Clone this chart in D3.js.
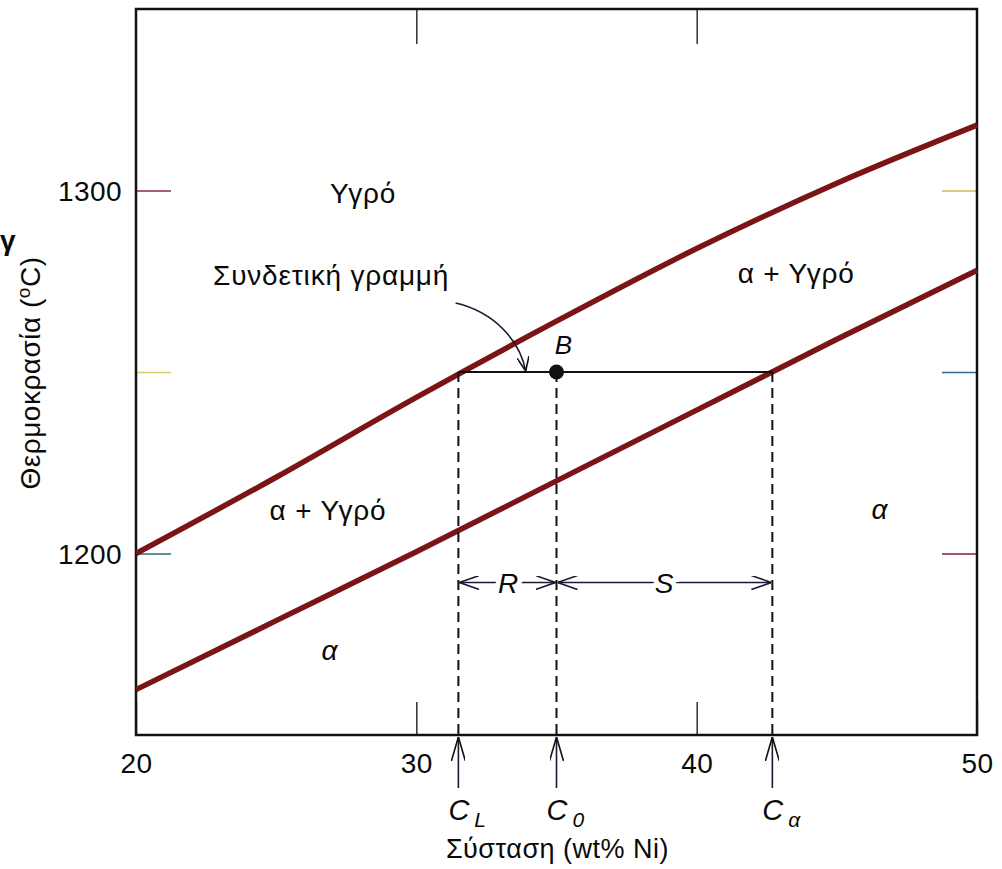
<!DOCTYPE html>
<head>
  <meta charset="utf-8">
  <script src="https://d3js.org/d3.v7.min.js"></script>
  <style>
body { margin:0; background:#fff; }
text {
	font-family: "Liberation Sans", Arial, Helvetica, sans-serif;
	fill: #0a0a0a;
}
.label { font-size: 28px; letter-spacing: 0.8px; }
.ital { font-style: italic; }
.frame { fill: none; stroke: #111; stroke-width: 2.5; }
.curve { fill: none; stroke: #7b1416; stroke-width: 5.5; }
.tie { stroke: #111; stroke-width: 2; }
.dash { stroke: #111; stroke-width: 2; stroke-dasharray: 10,6; }
.thin { stroke: #1a1a33; stroke-width: 1.6; fill: none; }
.axis text { font-size: 28px; letter-spacing: 0.4px; fill: #0a0a0a; }
.axis .domain { display: none; }
  </style>
</head>

<body>
  <script>
// composition (wt% Ni) and phase boundaries (°C)
const compNi = [20, 25, 30, 35, 40, 45, 50]
const liquidusT = [1200, 1221, 1243, 1264, 1284, 1302, 1318]
const solidusT = [1162.5, 1181.5, 1200.5, 1220, 1239.5, 1259, 1278]

const xTicks = [20, 30, 40, 50]
const yTicks = [1200, 1250, 1300]
const yTickLabels = ['1200', '', '1300']

// tie line at point B
const tieT = 1250
const cL = 31.5
const c0 = 35
const cAlpha = 42.7

const regionNames = ['Υγρό', 'α + Υγρό', 'α + Υγρό', 'α', 'α']
const regionX = [28.1, 43.55, 26.85, 46.54, 26.92]
const regionT = [1296.5, 1274.5, 1209.2, 1209.5, 1170.7]

const width = 1002
const height = 869

const x = d3.scaleLinear().domain([20, 50]).range([136, 977])
const y = d3.scaleLinear().domain([1150, 1350]).range([735, 9])

const svg = d3.select('body')
	.append('svg')
	.attr('width', width)
	.attr('height', height)

const defs = svg.append('defs')
const marker = (id, len, half, col) => {
	defs.append('marker')
		.attr('id', id)
		.attr('markerUnits', 'userSpaceOnUse')
		.attr('viewBox', `0 0 ${len} ${half * 2}`)
		.attr('refX', len).attr('refY', half)
		.attr('markerWidth', len).attr('markerHeight', half * 2)
		.attr('orient', 'auto-start-reverse')
		.append('path')
		.attr('d', `M0,0L${len},${half}L0,${half * 2}`)
		.attr('fill', 'none')
		.attr('stroke', col)
		.attr('stroke-width', 1.6)
}
marker('up', 24, 7, '#111')
marker('dim', 20, 7, '#1a1a33')
marker('note', 14, 6, '#111')

// axes: ticks point inwards
const tickCol = {
	left: { 1300: '#8a2850', 1250: '#d6cc6a', 1200: '#2c6e78' },
	right: { 1300: '#c9b850', 1250: '#2b6c9a', 1200: '#8a1c30' }
}

const gl = svg.append('g').attr('class', 'axis')
	.attr('transform', `translate(${x(20)},0)`)
	.call(d3.axisLeft(y).tickValues(yTicks).tickSizeInner(-35).tickSizeOuter(0)
		.tickPadding(14).tickFormat((d, i) => yTickLabels[i]))
gl.selectAll('.tick line').attr('stroke', d => tickCol.left[d]).attr('stroke-width', 1.6)
gl.selectAll('.tick text').attr('dy', '0.36em')

const gr = svg.append('g').attr('class', 'axis')
	.attr('transform', `translate(${x(50)},0)`)
	.call(d3.axisRight(y).tickValues(yTicks).tickSizeInner(-35).tickSizeOuter(0).tickFormat(''))
gr.selectAll('.tick line').attr('stroke', d => tickCol.right[d]).attr('stroke-width', 1.6)

const gb = svg.append('g').attr('class', 'axis')
	.attr('transform', `translate(0,${y(1150)})`)
	.call(d3.axisBottom(x).tickValues(xTicks).tickSizeInner(-33).tickSizeOuter(0).tickPadding(18))
gb.selectAll('.tick line').attr('stroke', '#111').attr('stroke-width', 1.3)

const gt = svg.append('g').attr('class', 'axis')
	.attr('transform', `translate(0,${y(1350)})`)
	.call(d3.axisTop(x).tickValues([30, 40]).tickSizeInner(-35).tickSizeOuter(0).tickFormat(''))
gt.selectAll('.tick line').attr('stroke', '#111').attr('stroke-width', 1.3)

svg.append('rect')
	.attr('class', 'frame')
	.attr('x', x(20)).attr('y', y(1350))
	.attr('width', x(50) - x(20)).attr('height', y(1150) - y(1350))

// phase boundaries
const line = d3.line()
	.x(d => x(d[0]))
	.y(d => y(d[1]))
	.curve(d3.curveMonotoneX)

svg.append('path').attr('class', 'curve')
	.attr('d', line(d3.zip(compNi, liquidusT)))
svg.append('path').attr('class', 'curve')
	.attr('d', line(d3.zip(compNi, solidusT)))

// tie line and dashed drops
svg.append('line').attr('class', 'tie')
	.attr('x1', x(cL)).attr('x2', x(cAlpha))
	.attr('y1', y(tieT)).attr('y2', y(tieT))

const comps = [cL, c0, cAlpha]
svg.selectAll('.dash')
	.data(comps)
	.enter().append('line')
	.attr('class', 'dash')
	.attr('x1', d => x(d)).attr('x2', d => x(d))
	.attr('y1', y(tieT)).attr('y2', y(1150))

svg.append('circle')
	.attr('cx', x(c0)).attr('cy', y(tieT)).attr('r', 7.5)
	.attr('fill', '#111')

svg.append('text')
	.attr('class', 'ital')
	.attr('x', x(c0) + 7).attr('y', y(tieT) - 18)
	.attr('text-anchor', 'middle')
	.style('font-size', '26px')
	.text('B')

// R and S lever arms
const armT = 1192
const arms = [[cL, c0, 'R'], [c0, cAlpha, 'S']]
svg.selectAll('.arm')
	.data(arms)
	.enter().append('line')
	.attr('class', 'thin')
	.attr('x1', d => x(d[0]) + 1).attr('x2', d => x(d[1]) - 1)
	.attr('y1', y(armT)).attr('y2', y(armT))
	.attr('marker-start', 'url(#dim)')
	.attr('marker-end', 'url(#dim)')

svg.selectAll('.armtext')
	.data(arms)
	.enter().append('text')
	.attr('class', 'label ital')
	.attr('x', d => x((d[0] + d[1]) / 2) + (d[2] === 'R' ? 1 : 0))
	.attr('y', y(armT) + 10)
	.attr('text-anchor', 'middle')
	.attr('stroke', '#fff').attr('stroke-width', 10)
	.attr('paint-order', 'stroke')
	.text(d => d[2])

// arrows under the axis
svg.selectAll('.up')
	.data(comps)
	.enter().append('line')
	.attr('class', 'thin')
	.attr('stroke', '#111')
	.attr('x1', d => x(d)).attr('x2', d => x(d))
	.attr('y1', 788).attr('y2', y(1150) + 2)
	.attr('marker-end', 'url(#up)')

const subs = ['L', '0', 'α']
const cl = svg.selectAll('.clab')
	.data(comps)
	.enter().append('text')
	.attr('class', 'ital')
	.attr('x', d => x(d) - 10)
	.attr('y', 820)
	.style('font-size', '29px')
cl.append('tspan').text('C')
cl.append('tspan')
	.attr('dx', 5).attr('dy', 7)
	.style('font-size', '21px')
	.text((d, i) => subs[i])

svg.append('text')
	.attr('x', x(c0) + 1)
	.attr('y', 858)
	.attr('text-anchor', 'middle')
	.style('font-size', '27px')
	.style('letter-spacing', '0.5px')
	.text('Σύσταση (wt% Ni)')

// y title
const yt = svg.append('text')
	.attr('transform', `translate(40,${373}) rotate(-90)`)
	.attr('text-anchor', 'middle')
	.style('font-size', '28px')
	.style('letter-spacing', '0.5px')
yt.append('tspan').text('Θερμοκρασία (')
yt.append('tspan').attr('dy', -10).style('font-size', '19px').text('o')
yt.append('tspan').attr('dy', 10).text('C)')

// stray glyph at left edge
svg.append('text')
	.attr('x', 0).attr('y', 250)
	.style('font-size', '28px').style('font-weight', 'bold')
	.text('γ')

// region names
svg.selectAll('.region')
	.data(regionNames)
	.enter().append('text')
	.attr('class', (d, i) => i >= 3 ? 'label ital' : 'label')
	.attr('x', (d, i) => x(regionX[i]))
	.attr('y', (d, i) => y(regionT[i]))
	.attr('text-anchor', 'middle')
	.text(d => d)

// tie line note
svg.append('text')
	.attr('class', 'label')
	.attr('x', x(26.96)).attr('y', y(1274))
	.attr('text-anchor', 'middle')
	.text('Συνδετική γραμμή')

svg.append('path')
	.attr('class', 'thin')
	.attr('stroke', '#111')
	.attr('d', `M${x(31.4)},${y(1269)}C${x(32.8)},${y(1266.5)} ${x(33.7)},${y(1258.5)} ${x(33.9)},${y(tieT) - 1}`)
	.attr('marker-end', 'url(#note)')

  </script>
</body>
